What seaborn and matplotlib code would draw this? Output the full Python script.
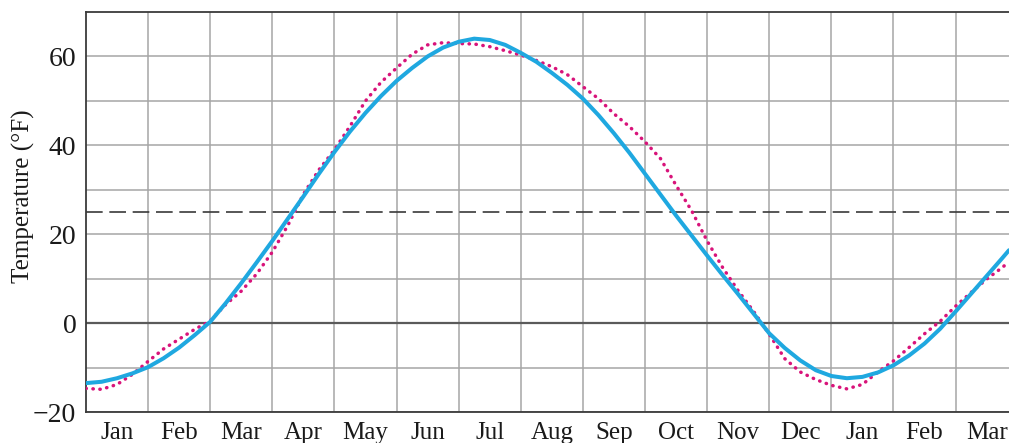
import numpy as np
import pandas as pd
import matplotlib
matplotlib.use("Agg")
import matplotlib.pyplot as plt
from matplotlib.ticker import FixedLocator, NullFormatter, FixedFormatter
import seaborn as sns

# ---------------- data ----------------
month_labels = ["Jan", "Feb", "Mar", "Apr", "May", "Jun", "Jul", "Aug",
                "Sep", "Oct", "Nov", "Dec", "Jan", "Feb", "Mar"]

# fitted sinusoid (solid cyan), x in months since Jan 1
fit_x = [0, 0.25, 0.5, 0.75, 1.0, 1.25, 1.5, 1.75, 2.0, 2.25, 2.5, 2.75,
         3.0, 3.25, 3.5, 3.75, 4.0, 4.25, 4.5, 4.75, 5.0, 5.25, 5.5, 5.75,
         6.0, 6.25, 6.5, 6.75, 7.0, 7.25, 7.5, 7.75, 8.0, 8.25, 8.5, 8.75,
         9.0, 9.25, 9.5, 9.75, 10.0, 10.25, 10.5, 10.75, 11.0, 11.25, 11.5,
         11.75, 12.0, 12.25, 12.5, 12.75, 13.0, 13.25, 13.5, 13.75, 14.0,
         14.25, 14.5, 14.75, 14.86]
fit_y = [-13.5, -13.2, -12.4, -11.3, -9.9, -7.9, -5.5, -2.7, 0.3, 4.5, 9.0,
         13.7, 18.5, 23.5, 28.5, 33.6, 38.5, 43.1, 47.3, 51.1, 54.5, 57.4,
         60.0, 62.0, 63.3, 64.0, 63.7, 62.6, 60.8, 58.8, 56.3, 53.6, 50.5,
         46.8, 42.7, 38.3, 33.6, 28.9, 24.2, 19.7, 15.2, 10.8, 6.5, 2.1,
         -2.3, -5.6, -8.4, -10.6, -11.9, -12.4, -12.1, -11.1, -9.5, -7.3,
         -4.6, -1.3, 2.6, 6.6, 10.6, 14.6, 16.4]

# observed normal temperatures (dotted magenta)
obs_x = [0.00, 0.25, 0.50, 0.75, 1.00, 1.25, 1.50, 1.75, 2.00, 2.25, 2.50,
         2.75, 3.00, 3.25, 3.50, 3.75, 4.00, 4.25, 4.50, 4.75, 5.00, 5.25,
         5.50, 5.75, 6.00, 6.25, 6.50, 6.75, 7.00, 7.25, 7.50, 7.75, 8.00,
         8.25, 8.50, 8.75, 9.00, 9.25, 9.50, 9.75, 10.00, 10.25, 10.50,
         10.75, 11.00, 11.25, 11.50, 11.75, 12.00, 12.25, 12.50, 12.75,
         13.00, 13.25, 13.50, 13.75, 14.00, 14.25, 14.50, 14.75, 14.86]
obs_y = [-14.7, -14.9, -13.8, -11.5, -8.6, -5.8, -3.6, -1.4, 0.5, 4.2, 7.2,
         11.1, 16.0, 22.0, 29.0, 34.5, 39.0, 44.3, 50.0, 54.2, 57.4, 60.5,
         62.6, 63.1, 62.9, 62.8, 62.2, 61.3, 60.3, 59.1, 57.7, 55.9, 53.2,
         50.5, 47.1, 44.2, 40.8, 37.0, 31.0, 25.3, 18.5, 12.5, 7.3,
         2.6, -2.5, -8.0, -11.0, -12.7, -14.0, -14.8, -13.8, -11.0,
         -8.5, -5.5, -2.4, 0.4, 3.8, 6.9, 9.9, 12.5, 13.8]

mean_temp = 25
y_ticks = [-20, 0, 20, 40, 60]
y_grid = [-10, 10, 30, 50]

fit_df = pd.DataFrame({"month": fit_x, "temp": fit_y})
obs_df = pd.DataFrame({"month": obs_x, "temp": obs_y})

# ---------------- style ----------------
sns.set_theme(style="white")
plt.rcParams["font.family"] = ["Liberation Serif", "DejaVu Serif"]
plt.rcParams["axes.unicode_minus"] = True

fig = plt.figure(figsize=(10.09, 4.43), dpi=100)
ax = fig.add_axes([86 / 1009, 1 - 412 / 443, 1 - 86 / 1009, (412 - 12) / 443])

grid_col = "#a6a6a6"

sns.lineplot(data=obs_df, x="month", y="temp", ax=ax, color="#d8137a",
             lw=2.5, linestyle=(0, (0.1, 1.9)), dash_capstyle="round",
             zorder=3, sort=False)
sns.lineplot(data=fit_df, x="month", y="temp", ax=ax, color="#1fa8e0",
             lw=2.9, zorder=4, sort=False)

ax.axhline(mean_temp, color="#3a3a3a", lw=1.2, dashes=(10, 4), zorder=2)
ax.axhline(0, color="#5a5a5a", lw=1.6, zorder=2)

ax.set_xlim(0, 14.86)
ax.set_ylim(-20, 70)

# grid: month boundaries and every 10 degrees
ax.xaxis.set_major_locator(FixedLocator(list(range(1, 15))))
ax.xaxis.set_major_formatter(NullFormatter())
ax.xaxis.set_minor_locator(FixedLocator([i + 0.5 for i in range(len(month_labels))]))
ax.xaxis.set_minor_formatter(FixedFormatter(month_labels))

ax.yaxis.set_major_locator(FixedLocator(y_ticks))
ax.yaxis.set_minor_locator(FixedLocator(y_grid))

ax.grid(True, which="major", color=grid_col, lw=1.1, zorder=1)
ax.grid(True, which="minor", axis="y", color=grid_col, lw=1.1, zorder=1)
ax.set_axisbelow(True)

ax.tick_params(axis="x", which="both", length=0, pad=7, labelsize=18,
               colors="#1a1a1a")
ax.tick_params(axis="y", which="both", length=0, pad=7, labelsize=20,
               colors="#1a1a1a")

for side in ["left", "top", "bottom"]:
    ax.spines[side].set_color("#3a3a3a")
    ax.spines[side].set_linewidth(1.3)
ax.spines["right"].set_visible(False)

ax.set_xlabel("")
ax.set_ylabel("")
fig.text(23 / 1009, 1 - 196 / 443, "Temperature (°F)", rotation=90,
         ha="center", va="center", fontsize=18, color="#1a1a1a")

fig.savefig("out.png", dpi=100)
